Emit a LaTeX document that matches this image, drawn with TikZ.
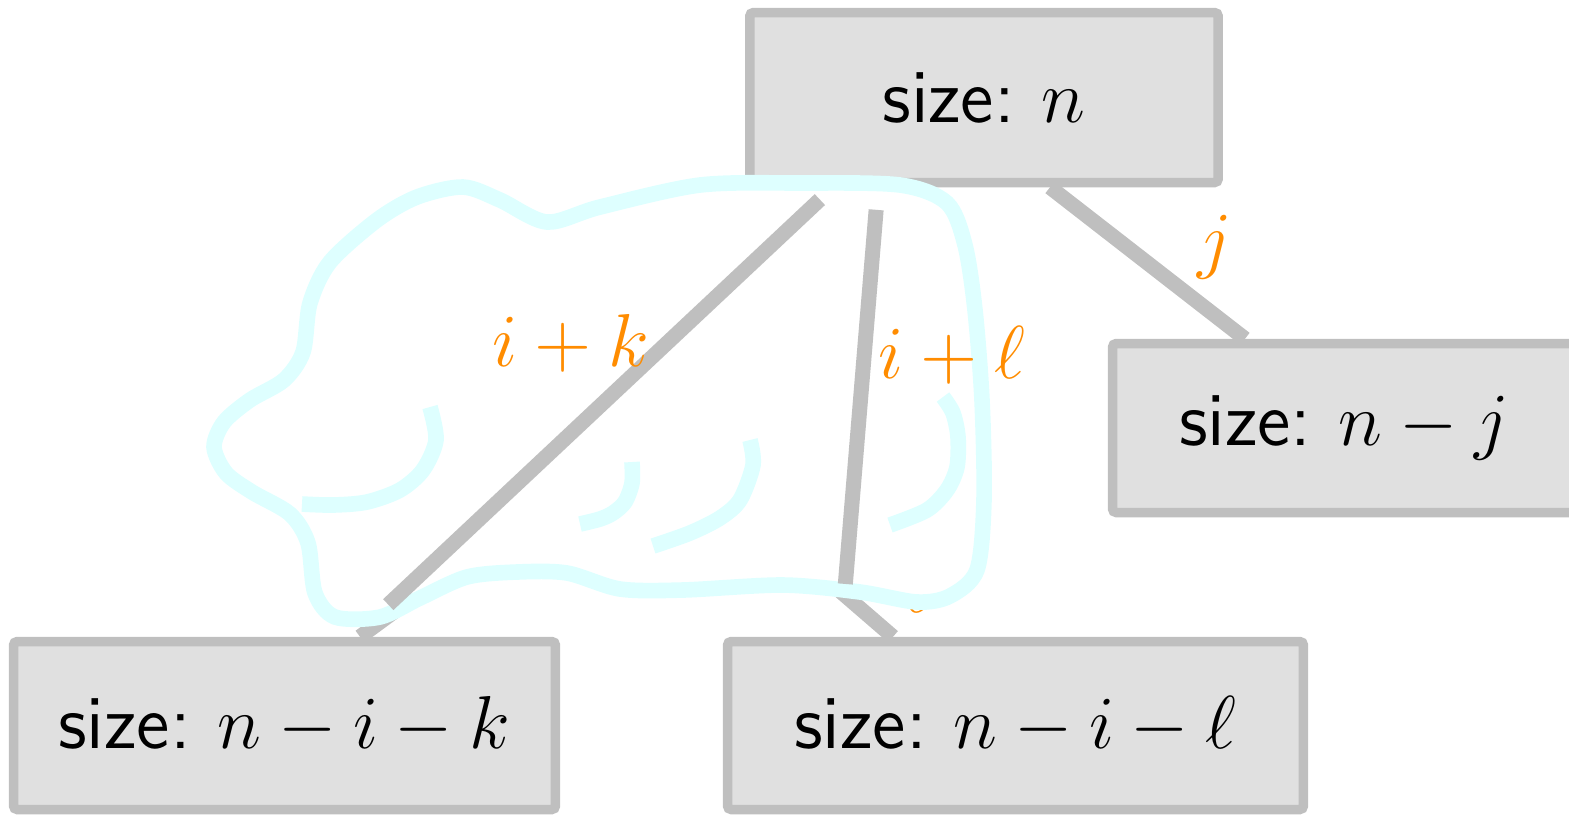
\documentclass[tikz,border=0pt]{standalone}
\usetikzlibrary{backgrounds}
\definecolor{boxfill}{RGB}{224,224,224}
\definecolor{boxline}{RGB}{191,191,191}
\definecolor{weightorange}{RGB}{255,140,0}
\definecolor{cloudcyan}{RGB}{222,255,255}
\tikzset{
  sizebox/.style={draw=boxline, fill=boxfill, line width=1.52pt, rounded corners=0.6pt, minimum height=27.2pt, inner sep=0pt, font=\fontsize{12.2}{15}\selectfont\sffamily},
  treeedge/.style={draw=boxline, line width=2.4pt},
  weight/.style={text=weightorange},
  doodle/.style={draw=cloudcyan, line width=2.5pt}
}
\begin{document}
\begin{tikzpicture}[x=0.16pt, y=-0.16pt, font=\fontsize{11.8}{14}\selectfont]
\useasboundingbox (0,0) rectangle (1569,814);
\node[sizebox, minimum width=74.96pt] (root) at (984,97.5) {size:\hspace{-1pt} $n$};
\node[sizebox, minimum width=74.08pt, minimum height=27.04pt] (rchild) at (1344,428) {size:\hspace{-1pt} $n-j$};
\node[sizebox, minimum width=86.72pt, minimum height=26.88pt] (lchild) at (284.5,725.5) {size:\hspace{-1pt} $n-i-k$};
\node[sizebox, minimum width=92.16pt, minimum height=26.88pt] (mchild) at (1015.5,725.5) {size:\hspace{-1pt} $n-i-\ell$};
\coordinate (hid) at (648,425);
\begin{scope}[on background layer]
\draw[treeedge] ([xshift=10.56pt]root.south) -- ([xshift=-15.84pt]rchild.north) node[weight, midway, shift=(13:11pt)] {$j$};
\draw[treeedge] (hid) -- ([xshift=12.08pt]lchild.north);
\draw[treeedge] (hid) -- ([xshift=-19.6pt]mchild.north) node[weight, pos=0.8, shift=(6:11.7pt)] {$\ell$};
\end{scope}
\draw[doodle, fill=white] plot[smooth cycle] coordinates {(214,447) (224,422) (250,400) (284,380) (303,352) (310,303) (330,262) (377,220) (417,197) (463,187) (500,200) (547,222) (600,207) (700,185) (800,183) (900,185) (947,203) (965,245) (975,310) (982,400) (984,500) (977,570) (950,596) (917,602) (860,592) (783,585) (683,590) (620,589) (567,573) (517,572) (467,577) (420,598) (380,617) (335,617) (315,593) (308,543) (290,514) (252,492) (226,473)};
\draw[doodle] plot[smooth] coordinates {(430,407) (436,440) (423,470) (400,490) (367,502) (333,505) (302,504)};
\draw[doodle] plot[smooth] coordinates {(632,462) (632,483) (625,502) (613,513) (600,519) (580,524)};
\draw[doodle] plot[smooth] coordinates {(750,440) (753,465) (740,500) (720,518) (690,533) (653,546)};
\draw[doodle] plot[smooth] coordinates {(943,397) (953,413) (958,437) (957,467) (947,490) (927,510) (890,525)};
\draw[treeedge, shorten <=2.88pt, shorten >=7.52pt] ([xshift=-24.16pt]root.south) -- ([xshift=11.12pt]lchild.north) node[weight, midway, shift=(108:11.6pt)] {$i+k$};
\draw[treeedge, shorten <=3.62pt, shorten >=8.48pt] ([xshift=-16.96pt]root.south) -- ([xshift=-27.92pt]mchild.north) node[weight, midway, shift=(31.6:17.4pt)] {$i+\ell$};
\end{tikzpicture}
\end{document}
